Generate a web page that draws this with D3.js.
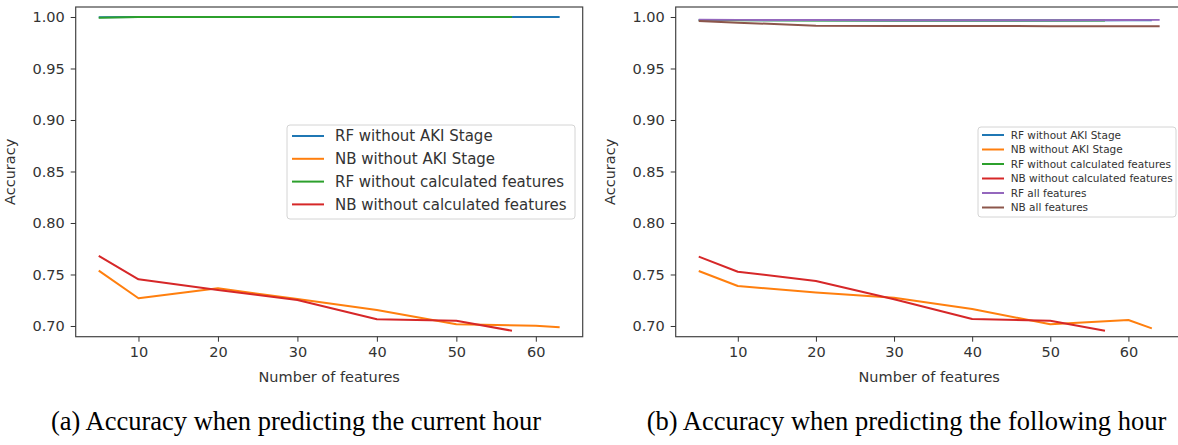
<!DOCTYPE html>
<html>
<head>
<meta charset="utf-8">
<script src="https://cdn.jsdelivr.net/npm/d3@7"></script>
<style>
  body { margin: 0; background: #fff; }
  svg { display: block; }
</style>
</head>
<body>
<script>
// number of features on the x axis
var featuresA = [5, 10, 20, 30, 40, 50, 60, 63];
var featuresShort = [5, 10, 20, 30, 40, 50, 57];
var featuresB = [5, 10, 20, 30, 40, 50, 60, 64];

// (a) current hour
var rfNoAkiA = [0.9998, 1.0, 1.0, 1.0, 1.0, 1.0, 1.0, 1.0];
var nbNoAkiA = [0.7537, 0.7269, 0.7366, 0.7262, 0.7155, 0.7016, 0.7003, 0.6987];
var rfNoCalcA = [0.9992, 1.0, 1.0, 1.0, 1.0, 1.0, 1.0];
var nbNoCalcA = [0.7680, 0.7453, 0.7350, 0.7252, 0.7065, 0.7051, 0.6954];

// (b) following hour
var rfNoAkiB = [0.9970, 0.9970, 0.9968, 0.9966, 0.9966, 0.9966, 0.9968, 0.9968];
var nbNoAkiB = [0.7534, 0.7388, 0.7324, 0.7275, 0.7165, 0.7016, 0.7058, 0.6977];
var rfNoCalcB = [0.9968, 0.9968, 0.9966, 0.9965, 0.9965, 0.9965, 0.9965];
var nbNoCalcB = [0.7673, 0.7527, 0.7437, 0.7260, 0.7068, 0.7051, 0.6954];
var rfAllB = [0.9973, 0.9972, 0.9970, 0.9968, 0.9968, 0.9968, 0.9970, 0.9972];
var nbAllB = [0.9962, 0.9945, 0.9916, 0.9913, 0.9912, 0.9911, 0.9911, 0.9911];

var xTicks = [10, 20, 30, 40, 50, 60];
var yTicks = [0.70, 0.75, 0.80, 0.85, 0.90, 0.95, 1.00];

var namesA = ["RF without AKI Stage", "NB without AKI Stage", "RF without calculated features", "NB without calculated features"];
var namesB = namesA.concat(["RF all features", "NB all features"]);
var colors = ["#1f77b4", "#ff7f0e", "#2ca02c", "#d62728", "#9467bd", "#8c564b"];

var canvas = d3.select("body").append("svg")
    .attr("width", 1178)
    .attr("height", 445);

var axisFont = "'DejaVu Sans', sans-serif";

function drawPanel(left, right, xDomain, series, legend, labelX){
    var top = 7, bottom = 336.7;
    var x = d3.scaleLinear().domain(xDomain).range([left, right]);
    var y = d3.scaleLinear().domain([0.6896, 1.0097]).range([bottom, top]);

    var line = d3.line()
        .x(function(d){ return x(d[0]); })
        .y(function(d){ return y(d[1]); });

    series.forEach(function(s){
        canvas.append("path")
            .datum(d3.zip(s.xs, s.ys))
            .attr("d", line)
            .attr("fill", "none")
            .attr("stroke", s.color)
            .attr("stroke-width", 2)
            .attr("stroke-linejoin", "round");
    });

    // frame
    canvas.append("rect")
        .attr("x", left)
        .attr("y", top)
        .attr("width", right - left)
        .attr("height", bottom - top)
        .attr("fill", "none")
        .attr("stroke", "#444")
        .attr("stroke-width", 1.2);

    var xAxis = canvas.append("g")
        .attr("transform", "translate(0," + bottom + ")")
        .call(d3.axisBottom(x).tickValues(xTicks).tickSize(5).tickPadding(5).tickFormat(d3.format("d")));
    var yAxis = canvas.append("g")
        .attr("transform", "translate(" + left + ",0)")
        .call(d3.axisLeft(y).tickValues(yTicks).tickSize(5).tickPadding(6).tickFormat(d3.format(".2f")));

    [xAxis, yAxis].forEach(function(g){
        g.select(".domain").remove();
        g.selectAll(".tick line").attr("stroke", "#333").attr("stroke-width", 1);
        g.selectAll(".tick text")
            .attr("fill", "#333")
            .style("font-family", axisFont)
            .style("font-size", "14.5px");
    });

    canvas.append("text")
        .attr("x", (left + Math.min(right, 1182.7)) / 2)
        .attr("y", 382)
        .attr("text-anchor", "middle")
        .attr("fill", "#333")
        .style("font-family", axisFont)
        .style("font-size", "14.5px")
        .text("Number of features");

    canvas.append("text")
        .attr("transform", "translate(" + labelX + "," + ((top + bottom) / 2) + ") rotate(-90)")
        .attr("text-anchor", "middle")
        .attr("fill", "#333")
        .style("font-family", axisFont)
        .style("font-size", "14.5px")
        .text("Accuracy");

    // legend
    canvas.append("rect")
        .attr("x", legend.x)
        .attr("y", legend.y)
        .attr("width", legend.w)
        .attr("height", legend.h)
        .attr("rx", 3)
        .attr("fill", "#fff")
        .attr("fill-opacity", 0.85)
        .attr("stroke", "#d4d4d4");

    series.forEach(function(s, i){
        var cy = legend.first + i * legend.step;
        canvas.append("line")
            .attr("x1", legend.x + legend.h1)
            .attr("x2", legend.x + legend.h2)
            .attr("y1", cy)
            .attr("y2", cy)
            .attr("stroke", s.color)
            .attr("stroke-width", 2);
        canvas.append("text")
            .attr("x", legend.x + legend.tx)
            .attr("y", cy)
            .attr("dy", "0.36em")
            .attr("fill", "#333")
            .style("font-family", axisFont)
            .style("font-size", legend.font)
            .text(s.name);
    });
}

function setup(){
    var seriesA = [
        {xs: featuresA, ys: rfNoAkiA},
        {xs: featuresA, ys: nbNoAkiA},
        {xs: featuresShort, ys: rfNoCalcA},
        {xs: featuresShort, ys: nbNoCalcA}
    ];
    seriesA.forEach(function(s, i){ s.name = namesA[i]; s.color = colors[i]; });

    var seriesB = [
        {xs: featuresA, ys: rfNoAkiB},
        {xs: featuresA, ys: nbNoAkiB},
        {xs: featuresShort, ys: rfNoCalcB},
        {xs: featuresShort, ys: nbNoCalcB},
        {xs: featuresB, ys: rfAllB},
        {xs: featuresB, ys: nbAllB}
    ];
    seriesB.forEach(function(s, i){ s.name = namesB[i]; s.color = colors[i]; });

    drawPanel(75.7, 582.7, [2.1, 65.9], seriesA,
        {x: 287, y: 125, w: 288, h: 94, first: 136, step: 22.8, h1: 5, h2: 37, tx: 48, font: "15px"}, 15);
    drawPanel(675.7, 1182.7, [2.05, 66.95], seriesB,
        {x: 978, y: 127, w: 198, h: 90, first: 135, step: 14.5, h1: 4, h2: 26, tx: 32.7, font: "10.5px"}, 615);

    canvas.append("text")
        .attr("x", 296)
        .attr("y", 430)
        .attr("text-anchor", "middle")
        .style("font-family", "'Liberation Serif', 'Times New Roman', serif")
        .style("font-size", "26.5px")
        .text("(a) Accuracy when predicting the current hour");
    canvas.append("text")
        .attr("x", 906.5)
        .attr("y", 430)
        .attr("text-anchor", "middle")
        .style("font-family", "'Liberation Serif', 'Times New Roman', serif")
        .style("font-size", "26.5px")
        .text("(b) Accuracy when predicting the following hour");
}

setup();
</script>
</body>
</html>
